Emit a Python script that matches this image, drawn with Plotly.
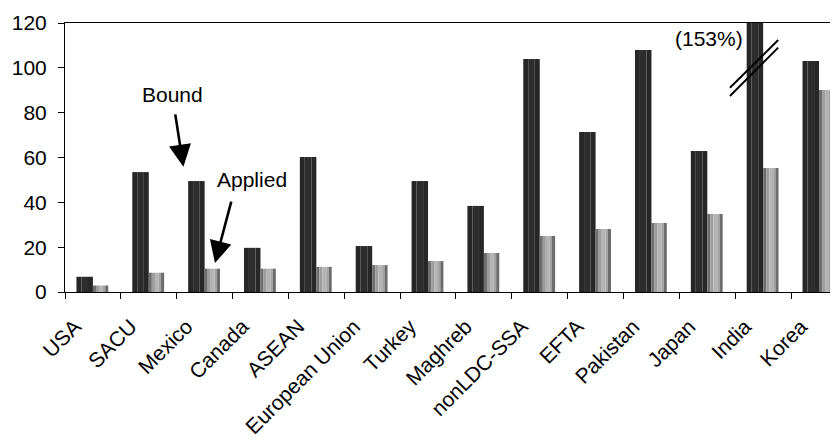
import plotly.graph_objects as go

categories = ["USA", "SACU", "Mexico", "Canada", "ASEAN", "European Union", "Turkey",
              "Maghreb", "nonLDC-SSA", "EFTA", "Pakistan", "Japan", "India", "Korea"]
bound = [6.8, 53.5, 49.5, 19.7, 60.2, 20.5, 49.5, 38.4, 103.9, 71.4, 108.0, 62.9, 153.0, 103.0]
applied = [2.9, 8.6, 10.4, 10.4, 11.2, 12.0, 13.8, 17.4, 25.0, 28.1, 30.8, 34.8, 55.3, 90.1]

y_ticks = [0, 20, 40, 60, 80, 100, 120]

FONT = "Liberation Sans, Arial, sans-serif"

fig = go.Figure()

# Bound bars (dark, slight vertical shading)
bound_w = 0.295
b_strips = [(0.0, 0.3, "#262626"), (0.3, 0.4, "#2d2d2d"), (0.7, 0.3, "#272727")]
for start, frac, col in b_strips:
    fig.add_trace(go.Bar(
        x=categories, y=bound,
        offset=-bound_w + start * bound_w, width=frac * bound_w,
        marker=dict(color=col, line=dict(width=0)),
        showlegend=False, hoverinfo="skip", name="Bound"))

# Applied bars (grey, cylinder-like shading)
app_w = 0.275
a_strips = [(0.0, 0.2, "#6e6e6e"), (0.2, 0.2, "#9c9c9c"), (0.4, 0.25, "#b4b4b4"),
            (0.65, 0.15, "#a2a2a2"), (0.8, 0.2, "#6c6c6c")]
for start, frac, col in a_strips:
    fig.add_trace(go.Bar(
        x=categories, y=applied,
        offset=start * app_w, width=frac * app_w,
        marker=dict(color=col, line=dict(width=0)),
        showlegend=False, hoverinfo="skip", name="Applied"))

# page body has an 8px margin, so the figure is drawn 8px in from the window edge
fig.update_layout(
    width=830, height=439,
    margin=dict(l=57, r=0, t=15, b=155, autoexpand=False),
    plot_bgcolor="white", paper_bgcolor="white",
    barmode="overlay",
    font=dict(family=FONT, size=21, color="black"),
    showlegend=False,
)

fig.update_xaxes(
    type="category", range=[-0.5, 13.34],
    showline=True, linecolor="black", linewidth=1, mirror=True,
    ticks="outside", tickson="boundaries", ticklen=6, tickcolor="black",
    tickangle=-45, tickfont=dict(family=FONT, size=21),
    ticklabelstandoff=13, ticklabelshift=-18,
    showgrid=False, zeroline=False,
)
fig.update_yaxes(
    range=[0, 120], tickvals=y_ticks,
    showline=True, linecolor="black", linewidth=1,
    ticks="outside", ticklen=6, tickcolor="black",
    tickfont=dict(family=FONT, size=21), ticklabelstandoff=7,
    showgrid=False, zeroline=False,
)

# Text labels and arrows
fig.add_annotation(x=1.43, y=87.9, text="Bound", showarrow=False,
                   font=dict(family=FONT, size=21))
fig.add_annotation(x=1.62, y=55.9, ax=1.47, ay=79.9, axref="x", ayref="y",
                   text="", showarrow=True, arrowhead=2, arrowsize=1.7,
                   arrowwidth=2.6, arrowcolor="black")
fig.add_annotation(x=2.84, y=50.0, text="Applied", showarrow=False,
                   font=dict(family=FONT, size=21))
fig.add_annotation(x=2.185, y=12.9, ax=2.484, ay=41.0, axref="x", ayref="y",
                   text="", showarrow=True, arrowhead=2, arrowsize=1.7,
                   arrowwidth=2.6, arrowcolor="black")
fig.add_annotation(x=11.03, y=113.3, text="(153%)", showarrow=False,
                   font=dict(family=FONT, size=21))

# Axis-break marks on the India bar
fig.add_shape(type="line", x0=11.405, y0=91.1, x1=12.269, y1=112.4,
              line=dict(color="black", width=2))
fig.add_shape(type="line", x0=11.405, y0=87.4, x1=12.269, y1=109.0,
              line=dict(color="black", width=2))

fig.write_html("out.html")
